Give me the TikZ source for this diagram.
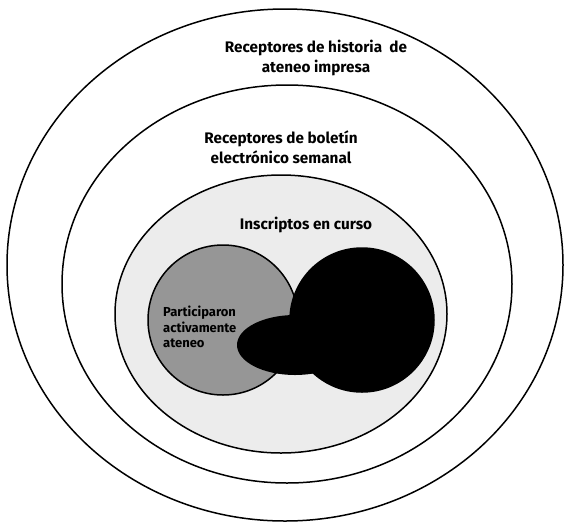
\documentclass[tikz,border=0pt]{standalone}
\usepackage{fontspec}
\setmainfont{Fira Sans}
\usepackage{tikz}
\usetikzlibrary{shapes.geometric}
\definecolor{MidGray}{RGB}{150,150,150}
\definecolor{PaleGray}{RGB}{236,236,236}

\begin{document}
\begin{tikzpicture}[
 x=1pt, y=-1pt,
 ring/.style={draw, ellipse, line width=1.5pt, inner sep=0pt},
 label/.style={font=\bfseries\fontsize{15.3}{20}\selectfont, align=center, inner sep=0pt},
 small/.style={font=\bfseries\fontsize{13}{15.5}\selectfont, align=left, inner sep=0pt, anchor=west}
]
\useasboundingbox (0,0) rectangle (565,523);
\node[ring, fill=white, minimum width=556, minimum height=512] (historia) at (285,265) {};
\node[ring, fill=white, minimum width=450, minimum height=398] (boletin) at (287,284) {};
\node[ring, fill=PaleGray, minimum width=332, minimum height=278] (curso) at (281,314) {};
\node[ring, circle, fill=MidGray, minimum size=150] (ateneo) at (223,320) {};
\node[ring, circle, fill=black, minimum size=144] (activos) at (362,320) {};
\node[ellipse, fill=black, minimum width=116, minimum height=60, inner sep=0pt] (enlace) at (295,345) {};

\node[label] (t1) at (316,58) {Receptores de historia\ \ de\\ateneo impresa};
\node[label] (t2) at (281,147) {Receptores de boletín\\electrónico semanal};
\node[label] (t3) at (306,225) {Inscriptos en curso};
\node[small] (t4) at (163,327) {Participaron\\activamente\\ateneo};
\end{tikzpicture}
\end{document}
